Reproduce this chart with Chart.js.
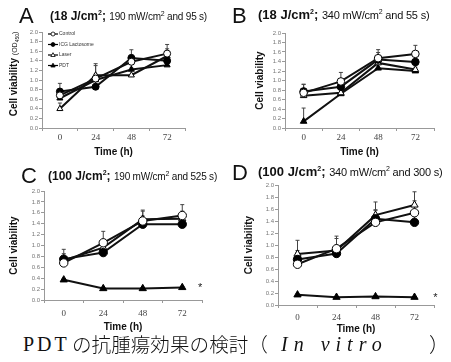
<!DOCTYPE html>
<html><head><meta charset="utf-8">
<script src="https://cdn.jsdelivr.net/npm/chart.js@4.4.0/dist/chart.umd.min.js"></script>
<style>
body{margin:0;background:#fff;width:451px;height:362px;overflow:hidden;position:relative;font-family:"Liberation Sans",Arial,sans-serif;}
.cv{position:absolute;}
.lt{position:absolute;font-size:22px;line-height:22px;color:#111;white-space:nowrap;}
.tt{position:absolute;font-size:12px;line-height:12px;font-weight:bold;color:#111;white-space:nowrap;}
.tt .s{font-size:10px;font-weight:normal;letter-spacing:-0.2px;}
.tt sup{font-size:7px;line-height:0;}
.tt.w{font-size:13px;}
.tt.w .s{font-size:11px;}
.cap{position:absolute;font-size:20px;line-height:20px;color:#111;white-space:nowrap;font-family:"Liberation Serif","Noto Sans CJK JP",serif;}
.ytA{position:absolute;left:-36px;top:68px;width:100px;height:12px;line-height:12px;font-size:10px;text-align:center;transform:rotate(-90deg);white-space:nowrap;color:#111;}
</style></head><body>
<div class="cv" style="left:0;top:25px;width:225px;height:133px"><canvas id="cA"></canvas></div>
<div class="cv" style="left:225px;top:25px;width:226px;height:133px"><canvas id="cB"></canvas></div>
<div class="cv" style="left:0;top:185px;width:225px;height:148px"><canvas id="cC"></canvas></div>
<div class="cv" style="left:225px;top:180px;width:226px;height:155px"><canvas id="cD"></canvas></div>

<div class="lt" style="left:19px;top:5px">A</div>
<div class="tt" style="left:50px;top:10px">(18 J/cm<sup>2</sup>; <span class="s">190 mW/cm<sup>2</sup> and 95 s)</span></div>
<div class="lt" style="left:232px;top:5px">B</div>
<div class="tt w" style="left:258px;top:9px">(18 J/cm<sup>2</sup>; <span class="s">340 mW/cm<sup>2</sup> and 55 s)</span></div>
<div class="lt" style="left:21px;top:165px">C</div>
<div class="tt" style="left:48px;top:170px">(100 J/cm<sup>2</sup>; <span class="s">190 mW/cm<sup>2</sup> and 525 s)</span></div>
<div class="lt" style="left:232px;top:162px">D</div>
<div class="tt w" style="left:258px;top:166px">(100 J/cm<sup>2</sup>; <span class="s">340 mW/cm<sup>2</sup> and 300 s)</span></div>

<div class="ytA"><b>Cell viability</b> <span style="font-size:7px">(OD<sub style="font-size:5px">450</sub>)</span></div>

<div class="cap" style="left:23px;top:334px"><span style="letter-spacing:3px">PDT</span></div>
<div class="cap" style="left:72px;top:334px;font-family:'Noto Sans CJK JP',sans-serif;font-weight:300;font-size:19.6px">の抗腫瘍効果の検討（</div>
<div class="cap" style="left:281px;top:334px;font-style:italic;letter-spacing:6px">In vitro</div>
<div class="cap" style="left:429px;top:334px;font-family:'Noto Sans CJK JP',sans-serif;font-weight:300">）</div>

<script>
const categories = ['0', '24', '48', '72'];
const seriesNames = ['Control', 'ICG Lactosome', 'Laser', 'PDT'];

// Panel A (18 J/cm2; 190 mW/cm2, 95 s)
const aControl = [0.68, 1.03, 1.38, 1.55];
const aIcg     = [0.76, 0.86, 1.46, 1.40];
const aLaser   = [0.40, 1.10, 1.10, 1.50];
const aPdt     = [0.62, 1.00, 1.22, 1.31];
const aControlErr = [0.10, 0.31, 0.14, 0.19];
const aIcgErr     = [0.17, 0.12, 0.17, 0.12];
const aLaserErr   = [0.12, 0.20, 0.15, 0.15];
const aPdtErr     = [0.10, 0.12, 0.12, 0.10];

// Panel B (18 J/cm2; 340 mW/cm2, 55 s)
const bControl = [0.74, 0.98, 1.47, 1.56];
const bIcg     = [0.77, 0.87, 1.44, 1.39];
const bLaser   = [0.68, 0.74, 1.37, 1.23];
const bPdt     = [0.14, 0.72, 1.26, 1.20];
const bControlErr = [0.18, 0.19, 0.18, 0.18];
const bIcgErr     = [0.15, 0.12, 0.15, 0.12];
const bLaserErr   = [0.10, 0.10, 0.12, 0.10];
const bPdtErr     = [0.28, 0.08, 0.10, 0.08];

// Panel C (100 J/cm2; 190 mW/cm2, 525 s)
const cControl = [0.68, 1.05, 1.45, 1.55];
const cIcg     = [0.75, 0.87, 1.39, 1.39];
const cLaser   = [0.73, 0.96, 1.48, 1.49];
const cPdt     = [0.37, 0.21, 0.21, 0.23];
const cControlErr = [0.12, 0.21, 0.18, 0.20];
const cIcgErr     = [0.18, 0.12, 0.15, 0.12];
const cLaserErr   = [0.12, 0.15, 0.17, 0.14];
const cPdtErr     = [0.02, 0.02, 0.02, 0.02];

// Panel D (100 J/cm2; 340 mW/cm2, 300 s)
const dControl = [0.68, 0.94, 1.38, 1.54];
const dIcg     = [0.76, 0.86, 1.44, 1.38];
const dLaser   = [0.85, 0.91, 1.50, 1.67];
const dPdt     = [0.17, 0.13, 0.14, 0.13];
const dControlErr = [0.20, 0.21, 0.20, 0.20];
const dIcgErr     = [0.15, 0.12, 0.15, 0.12];
const dLaserErr   = [0.23, 0.20, 0.22, 0.22];
const dPdtErr     = [0.01, 0.01, 0.01, 0.01];

const yTicks = [0, 0.2, 0.4, 0.6, 0.8, 1.0, 1.2, 1.4, 1.6, 1.8, 2.0];

const styles = [
  {pointStyle: 'circle', fill: '#ffffff'},
  {pointStyle: 'circle', fill: '#000000'},
  {pointStyle: 'triangle', fill: '#ffffff'},
  {pointStyle: 'triangle', fill: '#000000'}
];

const errorBars = {
  id: 'errorBars',
  beforeDatasetsDraw(chart) {
    const ctx = chart.ctx, ys = chart.scales.y;
    ctx.save();
    ctx.strokeStyle = '#444';
    ctx.lineWidth = 1;
    chart.data.datasets.forEach((ds, i) => {
      const meta = chart.getDatasetMeta(i);
      meta.data.forEach((pt, j) => {
        const e = ds.errors[j];
        if (!e) return;
        const y0 = ys.getPixelForValue(ds.data[j]);
        const y1 = ys.getPixelForValue(ds.data[j] + e);
        ctx.beginPath();
        ctx.moveTo(pt.x, y0); ctx.lineTo(pt.x, y1);
        ctx.moveTo(pt.x - 2, y1); ctx.lineTo(pt.x + 2, y1);
        ctx.stroke();
      });
    });
    ctx.restore();
  }
};

function marker(ctx, style, r, x, y) {
  ctx.fillStyle = style.fill;
  ctx.strokeStyle = '#000';
  ctx.beginPath();
  if (style.pointStyle === 'circle') {
    ctx.arc(x, y, r, 0, Math.PI * 2);
  } else {
    ctx.moveTo(x, y - r * 1.15);
    ctx.lineTo(x + r * 1.1, y + r * 0.75);
    ctx.lineTo(x - r * 1.1, y + r * 0.75);
    ctx.closePath();
  }
  ctx.fill(); ctx.stroke();
}

const extras = {
  id: 'extras',
  afterDatasetsDraw(chart, args, opts) {
    const ctx = chart.ctx, ca = chart.chartArea;
    ctx.save();
    if (opts.legend) {
      chart.data.datasets.forEach((ds, i) => {
        const yy = ca.top + 2 + i * 10.5;
        const x0 = ca.left + 6;
        ctx.strokeStyle = '#000'; ctx.lineWidth = 1.2;
        ctx.beginPath(); ctx.moveTo(x0, yy); ctx.lineTo(x0 + 10, yy); ctx.stroke();
        ctx.lineWidth = 0.8;
        marker(ctx, styles[i], 2, x0 + 5, yy);
        ctx.fillStyle = '#333';
        ctx.font = '5px "Liberation Sans", Arial, sans-serif';
        ctx.textBaseline = 'middle';
        ctx.textAlign = 'left';
        ctx.fillText(ds.label, x0 + 11, yy);
      });
    }
    if (opts.star) {
      const meta = chart.getDatasetMeta(3);
      const pt = meta.data[meta.data.length - 1];
      ctx.fillStyle = '#222';
      ctx.font = '11px "Liberation Sans", Arial, sans-serif';
      ctx.textAlign = 'center';
      ctx.textBaseline = 'middle';
      ctx.fillText('*', pt.x + opts.star, pt.y + 1);
    }
    ctx.restore();
  }
};

function makeChart(id, series, errs, cfg) {
  const datasets = series.map((d, i) => ({
    label: seriesNames[i],
    data: d,
    errors: errs[i],
    borderColor: '#111',
    borderWidth: 2,
    tension: 0,
    pointStyle: styles[i].pointStyle,
    pointBackgroundColor: styles[i].fill,
    pointBorderColor: '#000',
    pointBorderWidth: 1,
    pointRadius: cfg.r,
    pointHoverRadius: cfg.r
  }));
  return new Chart(document.getElementById(id), {
    type: 'line',
    data: {labels: categories, datasets},
    plugins: [errorBars, extras],
    options: {
      responsive: true,
      maintainAspectRatio: false,
      animation: false,
      events: [],
      layout: {padding: {left: cfg.pl, right: cfg.pr, top: cfg.pt, bottom: 0}},
      plugins: {
        legend: {display: false},
        tooltip: {enabled: false},
        extras: {legend: !!cfg.legend, star: cfg.star || 0}
      },
      scales: {
        x: {
          type: 'category',
          offset: true,
          afterFit(s) { s.height = cfg.xh; },
          grid: {display: true, offset: true, drawOnChartArea: false, tickLength: 3, color: '#999'},
          border: {display: true, color: '#999', width: 1},
          ticks: {padding: cfg.xp, color: '#444', font: {family: '"Liberation Serif", serif', size: 9}},
          title: {display: true, text: 'Time (h)', color: '#111', padding: 0,
                  font: {family: '"Liberation Sans", Arial, sans-serif', size: 10, weight: 'bold'}}
        },
        y: {
          min: 0, max: 2,
          afterFit(s) { s.width = cfg.yw; },
          afterBuildTicks(s) { s.ticks = yTicks.map(v => ({value: v})); },
          grid: {display: true, drawOnChartArea: false, tickLength: 3, color: '#999'},
          border: {display: true, color: '#999', width: 1},
          ticks: {autoSkip: false, padding: 1, color: '#777',
                  font: {family: '"Liberation Sans", Arial, sans-serif', size: 6},
                  callback: v => Number(v).toFixed(1)},
          title: {display: cfg.ytitle, text: 'Cell viability', color: '#111', padding: 0,
                  font: {family: '"Liberation Sans", Arial, sans-serif', size: 10, weight: 'bold'}}
        }
      }
    }
  });
}

makeChart('cA', [aControl, aIcg, aLaser, aPdt], [aControlErr, aIcgErr, aLaserErr, aPdtErr],
  {r: 3.5, pl: 0, pr: 40, pt: 7, xh: 30, yw: 42, xp: 1, ytitle: false, legend: true});
makeChart('cB', [bControl, bIcg, bLaser, bPdt], [bControlErr, bIcgErr, bLaserErr, bPdtErr],
  {r: 3.8, pl: 29, pr: 17, pt: 8, xh: 30, yw: 31, xp: 1, ytitle: true});
makeChart('cC', [cControl, cIcg, cLaser, cPdt], [cControlErr, cIcgErr, cLaserErr, cPdtErr],
  {r: 4.2, pl: 8, pr: 23, pt: 6, xh: 33, yw: 36, xp: 5, ytitle: true, star: 18});
makeChart('cD', [dControl, dIcg, dLaser, dPdt], [dControlErr, dIcgErr, dLaserErr, dPdtErr],
  {r: 4.2, pl: 18, pr: 17, pt: 5, xh: 30, yw: 35, xp: 4, ytitle: true, star: 21});
</script>
</body></html>
